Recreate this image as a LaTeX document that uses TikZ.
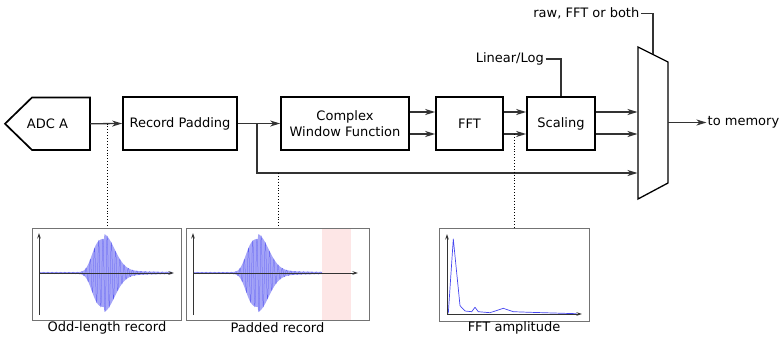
\documentclass[tikz,border=0pt]{standalone}
\usepackage{fontspec}
\setmainfont{DejaVu Sans}
\usetikzlibrary{arrows.meta,calc}
\definecolor{wavebg}{RGB}{165,165,247}
\definecolor{waveln}{RGB}{90,90,242}
\definecolor{fftblue}{RGB}{70,70,240}
\definecolor{padpink}{RGB}{253,230,230}
\begin{document}
\begin{tikzpicture}[x=1pt,y=-1pt,
  font=\fontsize{13pt}{16pt}\selectfont,
  box/.style={draw, line width=1.7pt, minimum height=52.5pt, inner sep=2pt},
  arr/.style={-{Stealth[length=10pt,width=6pt,inset=3pt]}, line width=1.3pt, draw=black!80},
  ctl/.style={line width=1.3pt, draw=black!80},
  tap/.style={dotted, line width=0.9pt},
  panel/.style={draw=black!55, line width=1pt, inner sep=0pt},
  axis/.style={-{Stealth[length=5.5pt,width=3.5pt]}, line width=0.8pt, draw=black!80},
  wavefill/.style={fill=wavebg},
  wave/.style={draw=waveln, line width=0.25pt},
  fftline/.style={draw=fftblue, line width=0.7pt, line join=round},
  declare function={
    envv(\t)=(\t<0) ? 33*exp(-min((abs(\t)/14)*(abs(\t)/14)*(abs(\t)/14),12))+0.9
                    : 33*exp(-min((\t/15)*(\t/15),12))+5*exp(-min(\t/20,12))+0.9;
  }]
\useasboundingbox (0,0) rectangle (784,337);

% ---- signal chain ----
% ADC source: pointed block, text node on top
\coordinate (a1) at (90,97.5);
\coordinate (a2) at (32,97.5);
\coordinate (a3) at (5,123.75);
\coordinate (a4) at (32,150);
\coordinate (a5) at (90,150);
\draw[line width=1.7pt, line join=miter] (a1) -- (a2) -- (a3) -- (a4) -- (a5) -- cycle;
\node[inner sep=0pt, minimum width=85pt, minimum height=52.5pt] (adc) at (47.5,123.75) {ADC A};

\node[box, minimum width=114pt] (rp) at (180,123.5) {Record Padding};
\node[box, minimum width=128pt, align=center] (cwf) at (345,123.5) {Complex\\Window Function};
\node[box, minimum width=67pt] (fft) at (469.5,123.5) {FFT};
\node[box, minimum width=68pt] (scal) at (561,123.5) {Scaling};

% multiplexer
\coordinate (m1) at (638,47);
\coordinate (m2) at (668,62);
\coordinate (m3) at (668,183);
\coordinate (m4) at (638,199);
\draw[line width=1.3pt] (m1) -- (m2) -- (m3) -- (m4) -- cycle;
\coordinate (mi1) at (637.5,112);
\coordinate (mi2) at (637.5,134);
\coordinate (mi3) at (637.5,173);
\coordinate (mo) at (668,122.5);
\coordinate (msel) at (653,54.5);

% taps and branch points
\coordinate (tapA) at (107,123.5);
\coordinate (split) at (257,123.5);
\coordinate (tapB) at (278,173);
\coordinate (tapC) at (514,134);

% labels
\node[anchor=east, inner sep=1.5pt] (lin) at (545.5,59) {Linear/Log};
\node[anchor=east, inner sep=1.5pt] (rawlbl) at (641,13.5) {raw, FFT or both};
\node[anchor=west, inner sep=1pt] (mem) at (706.5,122.5) {to memory};

% connectors
\draw[arr] (adc.east) -- (rp.west);
\draw[arr] (rp.east) -- (cwf.west);
\draw[arr] (split) |- (mi3);
\draw[arr] ([yshift=11.5pt]cwf.east) -- ([yshift=11.5pt]fft.west);
\draw[arr] ([yshift=-10.5pt]cwf.east) -- ([yshift=-10.5pt]fft.west);
\draw[arr] ([yshift=11.5pt]fft.east) -- ([yshift=11.5pt]scal.west);
\draw[arr] ([yshift=-10.5pt]fft.east) -- ([yshift=-10.5pt]scal.west);
\draw[arr] ([yshift=11.5pt]scal.east) -- (mi1);
\draw[arr] ([yshift=-10.5pt]scal.east) -- (mi2);
\draw[arr] (mo) -- (mem.west);
\draw[ctl] (lin.east) -| (scal.north);
\draw[ctl] (rawlbl.east) -| (msel);

% ---- preview panels ----
\fill[padpink] (322,228.5) rectangle (351,319.5);
\node[panel, minimum width=149pt, minimum height=92pt] (p1) at (106.5,274) {};
\node[panel, minimum width=183pt, minimum height=92pt] (p2) at (277.5,274) {};
\node[panel, minimum width=150pt, minimum height=93pt] (p3) at (514,274.5) {};

\draw[tap] (tapA) -- (tapA |- p1.north);
\draw[tap] (tapB) -- (tapB |- p2.north);
\draw[tap] (tapC) -- (tapC |- p3.north);

\node (l1) at (107,328) {Odd-length record};
\node (l2) at (277.5,328) {Padded record};
\node (l3) at (514,328) {FFT amplitude};

% odd-length record
\begin{scope}[shift={(104,273)}]
  \fill[wavefill] plot[domain=-64:68, samples=220] (\x,{-envv(\x)})
     -- plot[domain=68:-64, samples=220] (\x,{envv(\x)}) -- cycle;
  \draw[wave] plot[domain=-64:68, samples=700] (\x,{envv(\x)*sin(85*\x)});
\end{scope}
\draw[axis] (39,273) -- (174,273);
\draw[axis] (39,315) -- (39,233);

% padded record
\begin{scope}[shift={(258,273)}]
  \fill[wavefill] plot[domain=-64:64, samples=220] (\x,{-envv(\x)})
     -- plot[domain=64:-64, samples=220] (\x,{envv(\x)}) -- cycle;
  \draw[wave] plot[domain=-64:64, samples=700] (\x,{envv(\x)*sin(85*\x)});
\end{scope}
\draw[axis] (193,273) -- (358,273);
\draw[axis] (193,315) -- (193,233);

% FFT amplitude
\draw[fftline] (448.3,313.3) -- (453.3,239) -- (460,305.7) -- (465,311)
  -- (471.7,311.7) -- (475,307.3) -- (478.3,311.7) -- (490,312.7)
  -- (503.3,308.3) -- (513.3,311.7) -- (530,312.3) -- (576.7,313.7);
\draw[axis] (447,314) -- (582,314);
\draw[axis] (447,314) -- (447,234);
\end{tikzpicture}
\end{document}
